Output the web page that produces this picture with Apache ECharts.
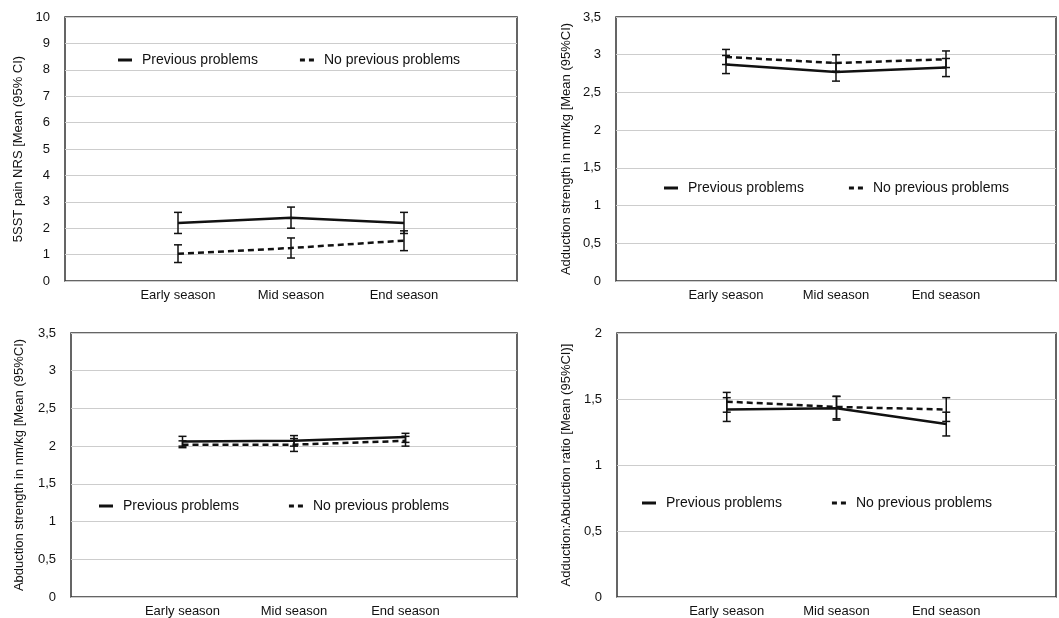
<!DOCTYPE html>
<html>
<head>
<meta charset="utf-8">
<script src="https://cdn.jsdelivr.net/npm/echarts@6/dist/echarts.min.js"></script>
<style>
  html, body { margin: 0; padding: 0; background: #fff; }
  #main { width: 1059px; height: 618px; }
</style>
</head>
<body>
<div id="main"></div>
<script>
// data
var categories = ['Early season', 'Mid season', 'End season'];
var seriesNames = ['Previous problems', 'No previous problems'];

// panel 1: 5SST pain NRS
var painPrev = [2.2, 2.4, 2.2];
var painPrevLow = [1.8, 2.0, 1.8];
var painPrevHigh = [2.6, 2.8, 2.6];
var painNo = [1.03, 1.25, 1.53];
var painNoLow = [0.7, 0.87, 1.15];
var painNoHigh = [1.37, 1.63, 1.9];

// panel 2: adduction strength
var addPrev = [2.87, 2.77, 2.83];
var addPrevLow = [2.75, 2.65, 2.71];
var addPrevHigh = [2.99, 2.89, 2.95];
var addNo = [2.97, 2.89, 2.94];
var addNoLow = [2.87, 2.78, 2.83];
var addNoHigh = [3.07, 3.0, 3.05];

// panel 3: abduction strength
var abdPrev = [2.06, 2.07, 2.12];
var abdPrevLow = [2.0, 2.0, 2.05];
var abdPrevHigh = [2.13, 2.14, 2.17];
var abdNo = [2.02, 2.02, 2.07];
var abdNoLow = [1.98, 1.93, 2.0];
var abdNoHigh = [2.07, 2.1, 2.13];

// panel 4: adduction:abduction ratio
var ratioPrev = [1.42, 1.43, 1.31];
var ratioPrevLow = [1.33, 1.34, 1.22];
var ratioPrevHigh = [1.51, 1.52, 1.4];
var ratioNo = [1.48, 1.44, 1.42];
var ratioNoLow = [1.4, 1.35, 1.33];
var ratioNoHigh = [1.55, 1.52, 1.51];

// y axes: [min, max, interval]
var yPain = [0, 10, 1];
var yAdd = [0, 3.5, 0.5];
var yAbd = [0, 3.5, 0.5];
var yRatio = [0, 2, 0.5];

var yNames = [
  '5SST pain NRS [Mean (95% CI)',
  'Adduction strength in nm/kg [Mean (95%CI)',
  'Abduction strength in nm/kg [Mean (95%CI)',
  'Adduction:Abduction ratio [Mean (95%CI)]'
];

var FONT = '"Liberation Sans", Arial, Helvetica, sans-serif';
var TXT = '#111';

var myChart = echarts.init(document.getElementById('main'));

// one empty slot each side so the three seasons sit at 1/4, 2/4, 3/4
var xCats = [''].concat(categories, ['']);

var grids = [
  { left: 65, top: 17, width: 452, height: 264 },
  { left: 616, top: 17, width: 448, height: 264 },
  { left: 71, top: 333, width: 446, height: 264 },
  { left: 617, top: 333, width: 448, height: 264 }
];

var yRanges = [yPain, yAdd, yAbd, yRatio];
var nameGaps = [40, 43, 45, 44];

var panels = [
  [painPrev, painPrevLow, painPrevHigh, painNo, painNoLow, painNoHigh],
  [addPrev, addPrevLow, addPrevHigh, addNo, addNoLow, addNoHigh],
  [abdPrev, abdPrevLow, abdPrevHigh, abdNo, abdNoLow, abdNoHigh],
  [ratioPrev, ratioPrevLow, ratioPrevHigh, ratioNo, ratioNoLow, ratioNoHigh]
];

function errorBar(params, api) {
  var lo = api.coord([api.value(0), api.value(1)]);
  var hi = api.coord([api.value(0), api.value(2)]);
  var half = 4;
  var st = { stroke: '#111', lineWidth: 1.5 };
  return {
    type: 'group',
    children: [
      { type: 'line', shape: { x1: lo[0], y1: lo[1], x2: hi[0], y2: hi[1] }, style: st },
      { type: 'line', shape: { x1: lo[0] - half, y1: lo[1], x2: lo[0] + half, y2: lo[1] }, style: st },
      { type: 'line', shape: { x1: hi[0] - half, y1: hi[1], x2: hi[0] + half, y2: hi[1] }, style: st }
    ]
  };
}

var xAxes = [], yAxes = [], lineSeries = [], barSeries = [];
grids.forEach(function (g, i) {
  g.show = true;
  g.borderColor = '#333';
  g.borderWidth = 1.5;
  g.backgroundColor = '#fff';
  xAxes.push({
    type: 'category',
    gridIndex: i,
    data: xCats,
    boundaryGap: false,
    axisLine: { show: false },
    axisTick: { show: false },
    axisLabel: { interval: 0, margin: 8, fontSize: 13, color: TXT, fontFamily: FONT },
    splitLine: { show: false }
  });
  var r = yRanges[i];
  yAxes.push({
    type: 'value',
    gridIndex: i,
    min: r[0],
    max: r[1],
    interval: r[2],
    name: yNames[i],
    nameLocation: 'middle',
    nameGap: nameGaps[i],
    nameTextStyle: { fontSize: 13, color: TXT, fontFamily: FONT },
    axisLine: { show: false },
    axisTick: { show: false },
    axisLabel: {
      margin: 15, fontSize: 13, color: TXT, fontFamily: FONT,
      formatter: function (v) { return String(v).replace('.', ','); }
    },
    splitLine: { lineStyle: { color: '#cdcdcd', width: 1 } }
  });

  var d = panels[i];
  [0, 1].forEach(function (k) {
    var mean = d[k * 3], low = d[k * 3 + 1], high = d[k * 3 + 2];
    lineSeries.push({
      name: seriesNames[k],
      type: 'line',
      xAxisIndex: i,
      yAxisIndex: i,
      symbol: 'none',
      lineStyle: { color: '#111', width: 2.5, type: k === 0 ? 'solid' : [6, 4] },
      itemStyle: { color: '#111' },
      z: 3,
      data: categories.map(function (c, j) { return [c, mean[j]]; })
    });
    barSeries.push({
      name: seriesNames[k],
      type: 'custom',
      xAxisIndex: i,
      yAxisIndex: i,
      renderItem: errorBar,
      z: 4,
      data: categories.map(function (c, j) { return [c, low[j], high[j]]; })
    });
  });
});

// legend icons: solid bar and two short dashes
var legendItems = [
  { name: seriesNames[0], icon: 'rect' },
  { name: seriesNames[1], icon: 'path://M0,0h5v3h-5z M9,0h5v3h-5z' }
];

// legend placement per panel: [left, top, itemGap]
var legendPos = [[118, 53, 42], [664, 181, 45], [99, 499, 50], [642, 496, 50]];
var legends = legendPos.map(function (p) {
  return {
    left: p[0],
    top: p[1],
    padding: 0,
    itemGap: p[2],
    itemWidth: 14,
    itemHeight: 3,
    data: legendItems,
    selectedMode: false,
    itemStyle: { color: '#111' },
    textStyle: { fontSize: 14, color: TXT, fontFamily: FONT, padding: [0, 0, 0, 5] }
  };
});

var option = {
  animation: false,
  backgroundColor: '#fff',
  legend: legends,
  grid: grids,
  xAxis: xAxes,
  yAxis: yAxes,
  series: lineSeries.concat(barSeries)
};

myChart.setOption(option);
</script>
</body>
</html>
